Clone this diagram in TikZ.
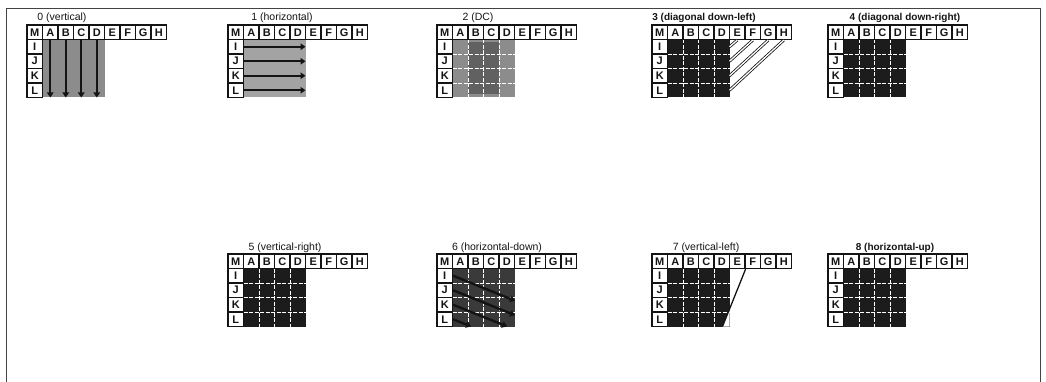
\documentclass[tikz,border=0pt]{standalone}
\usepackage{fontspec}
\setmainfont{Liberation Sans}
\usepackage{xcolor}
\definecolor{inkblack}{HTML}{141414}
\definecolor{scangray}{HTML}{8C8C8C}
\definecolor{darkfill}{HTML}{3A3A3A}
\definecolor{deepfill}{HTML}{1C1C1C}
\usetikzlibrary{positioning, arrows.meta}

\tikzset{
  refcell/.style={draw=inkblack, fill=white, line width=1.2pt, minimum width=15.5pt,
    minimum height=14.5pt, inner sep=0pt, font=\bfseries\fontsize{11}{11}\selectfont, text=inkblack},
  modetitle/.style={anchor=base, inner sep=0pt, font=\fontsize{10.5}{12}\selectfont, text=inkblack},
  heavytitle/.style={modetitle, font=\bfseries\fontsize{10}{12}\selectfont},
  gridline/.style={white, line width=0.6pt, dash pattern=on 4pt off 1.5pt},
  predarrow/.style={inkblack, line width=2.4pt, -{Triangle[length=5pt, width=6.5pt]}},
  bandline/.style={inkblack, line width=0.8pt, double=white, double distance=1.3pt},
  edgeline/.style={inkblack, line width=1.3pt},
  frameline/.style={inkblack!80, line width=0.7pt}
}

% shaded 4x4 area of one mode
\newcommand{\predblock}[4]{%
  \coordinate (#1nw) at (#2+15.5,#3+14.5);
  \coordinate (#1se) at (#2+77.5,#3+72.5);
  \fill[#4] (#1nw) rectangle (#1se);
}
\newcommand{\predgrid}[3]{%
  \foreach \k in {1,2,3} {
    \draw[gridline] ({#2+15.5+15.5*\k},{#3+14.5}) -- ++(0,58);
    \draw[gridline] ({#2+15.5},{#3+14.5+14.5*\k}) -- ++(62,0);
  }
}
% neighbour samples M..H and I..L
\newcommand{\refcells}[3]{%
  \foreach \lbl [count=\i from 0] in {M,A,B,C,D,E,F,G,H}
    \node[refcell] (#1\lbl) at ({#2+7.75+15.5*\i},{#3+7.25}) {\lbl};
  \foreach \lbl [count=\j from 1] in {I,J,K,L}
    \node[refcell] (#1\lbl) at ({#2+7.75},{#3+7.25+14.5*\j}) {\lbl};
}

\begin{document}
\begin{tikzpicture}[x=1pt, y=-1pt]
  \useasboundingbox (0,0) rectangle (1046,382);
  \draw[frameline] (6,382) -- (6,8) -- (1040,8) -- (1040,382);

  % 0 vertical
  \predblock{b0}{27}{25}{scangray}
  \refcells{b0}{27}{25}
  \foreach \lbl in {A,B,C,D}
    \draw[predarrow] (b0\lbl.south) -- (b0\lbl.south |- b0se);
  \node[modetitle] (t0) at (62,21) {0 (vertical)};

  % 1 horizontal
  \predblock{b1}{228}{25}{scangray!80}
  \refcells{b1}{228}{25}
  \foreach \lbl in {I,J,K,L}
    \draw[predarrow] (b1\lbl.east) -- (b1\lbl.east -| b1se);
  \node[modetitle] (t1) at (282,21) {1 (horizontal)};

  % 2 DC
  \predblock{b2}{437}{25}{scangray}
  \fill[darkfill!80] (b2nw) ++(15.5,3) rectangle ++(31,52);
  \predgrid{b2}{437}{25}
  \refcells{b2}{437}{25}
  \node[modetitle] (t2) at (478,21) {2 (DC)};

  % 3 diagonal down-left
  \predblock{b3}{652}{25}{deepfill}
  \predgrid{b3}{652}{25}
  \refcells{b3}{652}{25}
  \foreach \top/\row in {E/I,F/J,G/K,H/L}
    \draw[bandline] (b3\top.south) -- (b3\row -| b3se);
  \node[heavytitle] (t3) at (704,21) {3 (diagonal down-left)};

  % 4 diagonal down-right
  \predblock{b4}{828}{25}{deepfill}
  \predgrid{b4}{828}{25}
  \refcells{b4}{828}{25}
  \node[heavytitle] (t4) at (905,21) {4 (diagonal down-right)};

  % 5 vertical-right
  \predblock{b5}{228}{254}{deepfill}
  \predgrid{b5}{228}{254}
  \refcells{b5}{228}{254}
  \node[modetitle] (t5) at (285,250) {5 (vertical-right)};

  % 6 horizontal-down
  \predblock{b6}{437}{254}{darkfill}
  \predgrid{b6}{437}{254}
  \refcells{b6}{437}{254}
  \draw[predarrow] (b6I.east) -- ++(62,25);
  \draw[predarrow] (b6J.east) -- ++(62,25);
  \draw[predarrow] (b6K.east) -- ++(54,21.7);
  \draw[predarrow] (b6L.east) -- ++(18,7.2);
  \node[modetitle] (t6) at (497,250) {6 (horizontal-down)};

  % 7 vertical-left
  \predblock{b7}{652}{254}{deepfill}
  \predgrid{b7}{652}{254}
  \fill[white] ([xshift=-7pt]b7se) -- (b7se) -- ++(0,-18) -- cycle;
  \refcells{b7}{652}{254}
  \draw[edgeline] (b7E.south east) -- ([xshift=-7pt]b7se);
  \node[modetitle] (t7) at (706,250) {7 (vertical-left)};

  % 8 horizontal-up
  \predblock{b8}{828}{254}{deepfill}
  \predgrid{b8}{828}{254}
  \refcells{b8}{828}{254}
  \node[heavytitle] (t8) at (895,250) {8 (horizontal-up)};
\end{tikzpicture}
\end{document}
